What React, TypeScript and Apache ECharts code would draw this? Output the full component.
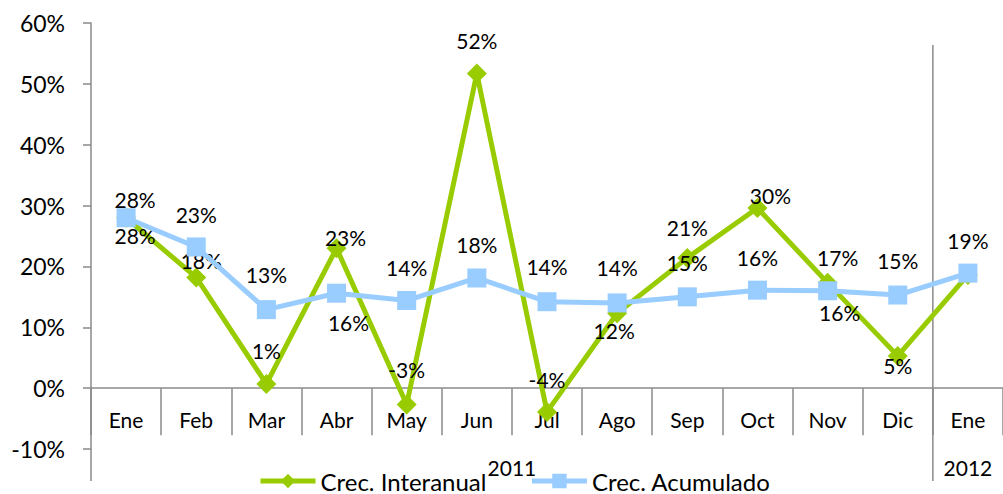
import React, { useEffect, useRef } from "react";
import * as echarts from "echarts";

const categories = ["Ene", "Feb", "Mar", "Abr", "May", "Jun", "Jul", "Ago", "Sep", "Oct", "Nov", "Dic", "Ene"];
const yearGroups = [
  { label: "2011", from: 0, to: 11 },
  { label: "2012", from: 12, to: 12 },
];
const interanual = [28.0, 18.2, 0.7, 23.0, -2.7, 51.7, -3.9, 12.3, 21.4, 29.6, 17.3, 5.3, 18.6];
const acumulado = [28.0, 23.2, 12.9, 15.6, 14.4, 18.1, 14.2, 14.0, 15.0, 16.1, 16.0, 15.3, 18.9];
const yMin = -10;
const yMax = 60;
const yStep = 10;

// data-label placement offsets (pixels from the point), null = label hidden
const interanualLabelOffset: (number[] | null)[] = [
  [9, 18], [5, -17], [0, -33], [9, -11], [0, -35], [0, -33], [0, -32],
  [-3, 17], [0, -30], [13, -13], [10, -25], [0, 10], null,
];
const acumuladoLabelOffset: (number[] | null)[] = [
  [9, -18], [0, -32], [0, -35], [12, 29], [0, -33], [0, -33], [0, -35],
  [0, -35], [0, -34], [0, -33], [12, 22], [0, -35], [0, -33],
];

const FONT = "Lato, 'Open Sans', sans-serif";
const GREEN = "#99CC00";
const BLUE = "#99CCFF";
const AXIS = "#8a8a8a";

const pct = (v: number) => `${Math.round(v)}%`;

function buildData(values: number[], offsets: (number[] | null)[]) {
  return values.map((v, i) => {
    const off = offsets[i];
    return {
      value: v,
      label: off
        ? { show: true, position: "inside", offset: off }
        : { show: false },
    };
  });
}

export default function App() {
  const ref = useRef<HTMLDivElement>(null);

  useEffect(() => {
    if (!ref.current) return;
    const chart = echarts.init(ref.current, null, { renderer: "svg" });
    const gridLeft = 91;
    const option: any = {
      animation: false,
      textStyle: { fontFamily: FONT },
      grid: { left: gridLeft, top: 23, width: 919, height: 426, containLabel: false },
      xAxis: {
        type: "category",
        data: categories,
        boundaryGap: true,
        axisLine: { onZero: true, lineStyle: { color: AXIS, width: 1.5 } },
        axisTick: { show: true, interval: 0, length: 47, lineStyle: { color: AXIS, width: 1.5 } },
        axisLabel: { interval: 0, margin: 21, fontSize: 21, color: "#000", fontFamily: FONT },
        splitLine: { show: false },
      },
      yAxis: {
        type: "value",
        min: yMin,
        max: yMax,
        interval: yStep,
        axisLine: { show: true, lineStyle: { color: AXIS, width: 1.5 } },
        axisTick: { show: true, length: 8, lineStyle: { color: AXIS, width: 1.5 } },
        axisLabel: { formatter: (v: number) => `${v}%`, margin: 26, fontSize: 23, color: "#000", fontFamily: FONT },
        splitLine: { show: false },
      },
      legend: {
        left: 258,
        top: 469,
        padding: 0,
        itemWidth: 55,
        itemHeight: 18,
        itemGap: 43,
        lineStyle: { width: 5 },
        textStyle: { fontSize: 24, color: "#000", fontFamily: FONT },
        data: ["Crec. Interanual", "Crec. Acumulado"],
      },
      series: [
        {
          name: "Crec. Interanual",
          type: "line",
          data: buildData(interanual, interanualLabelOffset),
          symbol: "diamond",
          symbolSize: 20,
          lineStyle: { color: GREEN, width: 5 },
          itemStyle: { color: GREEN },
          label: { show: true, formatter: (p: any) => pct(p.value), fontSize: 21, color: "#000", fontFamily: FONT },
          z: 2,
        },
        {
          name: "Crec. Acumulado",
          type: "line",
          data: buildData(acumulado, acumuladoLabelOffset),
          symbol: "rect",
          symbolSize: 19,
          lineStyle: { color: BLUE, width: 5 },
          itemStyle: { color: BLUE },
          label: { show: true, formatter: (p: any) => pct(p.value), fontSize: 21, color: "#000", fontFamily: FONT },
          z: 3,
        },
      ],
    };
    chart.setOption(option);

    // The category labels sit just under the zero line; shift them from the grid bottom to there.
    const yZero = chart.convertToPixel({ yAxisIndex: 0 }, 0) as number;
    const yBottom = chart.convertToPixel({ yAxisIndex: 0 }, yMin) as number;
    chart.setOption({ xAxis: { axisLabel: { margin: 21 - (yBottom - yZero) } } });

    const px = (i: number) => chart.convertToPixel({ xAxisIndex: 0 }, i) as number;
    const band = px(1) - px(0);
    const groupBottom = 481;
    const groupLabelY = 467;
    const graphics: any[] = [
      {
        type: "line",
        shape: { x1: gridLeft, y1: yBottom, x2: gridLeft, y2: groupBottom },
        style: { stroke: AXIS, lineWidth: 1.5 },
        silent: true,
      },
    ];
    yearGroups.forEach((g, gi) => {
      const x0 = px(g.from) - band / 2;
      const x1 = px(g.to) + band / 2;
      if (gi < yearGroups.length - 1) {
        graphics.push({
          type: "line",
          shape: { x1: x1, y1: 45, x2: x1, y2: groupBottom },
          style: { stroke: AXIS, lineWidth: 1.5 },
          silent: true,
        });
      }
      graphics.push({
        type: "text",
        x: (x0 + x1) / 2,
        y: groupLabelY,
        style: {
          text: g.label,
          fontSize: 21,
          fontFamily: FONT,
          fill: "#000",
          align: "center",
          verticalAlign: "middle",
        },
        silent: true,
        z: 10,
      });
    });
    chart.setOption({ graphic: graphics });

    return () => chart.dispose();
  }, []);

  return (
    <div
      ref={ref}
      style={{ position: "fixed", left: 0, top: 0, width: 1003, height: 494, background: "#fff" }}
    />
  );
}
